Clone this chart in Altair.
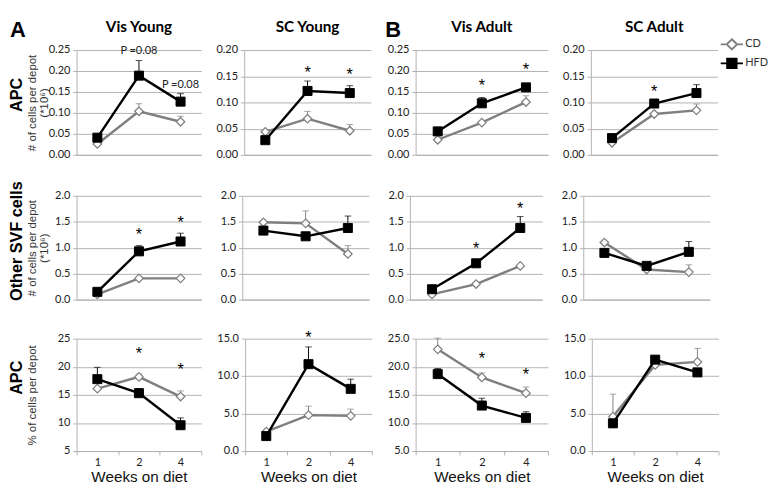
import altair as alt
import pandas as pd

weeks = ["1", "2", "4"]
series_names = ["CD", "HFD"]

# ---------- Row 1: APC, number of cells per depot (*10^6) ----------
apc_n_vis_young_cd = [0.026, 0.104, 0.079]
apc_n_vis_young_cd_sem = [0.0, 0.018, 0.013]
apc_n_vis_young_hfd = [0.041, 0.189, 0.127]
apc_n_vis_young_hfd_sem = [0.0, 0.036, 0.019]

apc_n_sc_young_cd = [0.044, 0.069, 0.046]
apc_n_sc_young_cd_sem = [0.0, 0.014, 0.012]
apc_n_sc_young_hfd = [0.028, 0.122, 0.118]
apc_n_sc_young_hfd_sem = [0.0, 0.019, 0.014]

apc_n_vis_adult_cd = [0.036, 0.077, 0.126]
apc_n_vis_adult_cd_sem = [0.0, 0.0, 0.015]
apc_n_vis_adult_hfd = [0.056, 0.123, 0.161]
apc_n_vis_adult_hfd_sem = [0.0, 0.014, 0.0]

apc_n_sc_adult_cd = [0.023, 0.078, 0.085]
apc_n_sc_adult_cd_sem = [0.0, 0.0, 0.012]
apc_n_sc_adult_hfd = [0.032, 0.098, 0.118]
apc_n_sc_adult_hfd_sem = [0.0, 0.0, 0.016]

# ---------- Row 2: Other SVF cells, number of cells per depot (*10^6) ----------
svf_vis_young_cd = [0.10, 0.41, 0.41]
svf_vis_young_cd_sem = [0.0, 0.0, 0.0]
svf_vis_young_hfd = [0.15, 0.93, 1.12]
svf_vis_young_hfd_sem = [0.0, 0.11, 0.16]

svf_sc_young_cd = [1.49, 1.47, 0.88]
svf_sc_young_cd_sem = [0.0, 0.24, 0.16]
svf_sc_young_hfd = [1.33, 1.22, 1.38]
svf_sc_young_hfd_sem = [0.0, 0.0, 0.23]

svf_vis_adult_cd = [0.10, 0.30, 0.65]
svf_vis_adult_cd_sem = [0.0, 0.0, 0.0]
svf_vis_adult_hfd = [0.20, 0.70, 1.38]
svf_vis_adult_hfd_sem = [0.0, 0.0, 0.22]

svf_sc_adult_cd = [1.10, 0.58, 0.53]
svf_sc_adult_cd_sem = [0.0, 0.0, 0.14]
svf_sc_adult_hfd = [0.90, 0.65, 0.92]
svf_sc_adult_hfd_sem = [0.0, 0.0, 0.20]

# ---------- Row 3: APC, % of cells per depot ----------
apc_pct_vis_young_cd = [16.1, 18.2, 14.7]
apc_pct_vis_young_cd_sem = [0.0, 0.5, 1.0]
apc_pct_vis_young_hfd = [17.8, 15.3, 9.6]
apc_pct_vis_young_hfd_sem = [2.1, 0.8, 1.3]

apc_pct_sc_young_cd = [2.6, 4.8, 4.7]
apc_pct_sc_young_cd_sem = [0.0, 1.2, 0.9]
apc_pct_sc_young_hfd = [2.0, 11.6, 8.3]
apc_pct_sc_young_hfd_sem = [0.0, 2.3, 1.3]

apc_pct_vis_adult_cd = [23.1, 18.1, 15.3]
apc_pct_vis_adult_cd_sem = [2.0, 0.8, 1.1]
apc_pct_vis_adult_hfd = [18.7, 13.1, 10.9]
apc_pct_vis_adult_hfd_sem = [1.0, 1.3, 1.1]

apc_pct_sc_adult_cd = [4.6, 11.5, 11.9]
apc_pct_sc_adult_cd_sem = [3.0, 0.0, 1.8]
apc_pct_sc_adult_hfd = [3.7, 12.2, 10.5]
apc_pct_sc_adult_hfd_sem = [0.0, 0.0, 0.0]

# ---------- Significance annotations (week, value, text) ----------
notes_apc_n_vis_young = [("2", 0.248, "P =0.08"), ("4", 0.167, "P =0.08")]
notes_apc_n_sc_young = [("2", 0.164, "*"), ("4", 0.161, "*")]
notes_apc_n_vis_adult = [("2", 0.176, "*"), ("4", 0.214, "*")]
notes_apc_n_sc_adult = [("2", 0.128, "*")]
notes_svf_vis_young = [("2", 1.33, "*"), ("4", 1.57, "*")]
notes_svf_vis_adult = [("2", 1.07, "*"), ("4", 1.83, "*")]
notes_apc_pct_vis_young = [("2", 23.1, "*"), ("4", 20.2, "*")]
notes_apc_pct_sc_young = [("2", 15.7, "*")]
notes_apc_pct_vis_adult = [("2", 22.1, "*"), ("4", 19.3, "*")]

column_titles = ["Vis Young", "SC Young", "Vis Adult", "SC Adult"]
row_labels = ["APC", "Other SVF cells", "APC"]
row_axis_titles = [["# of cells per depot", "(*10\u2076)"],
                   ["# of cells per depot", "(*10\u2076)"],
                   ["% of cells per depot", " "]]
x_title = "Weeks on diet"

GRAY = "#7f7f7f"
GRID = "#b0b0b0"
CD_PATH = "M-1.3,0L-0.6,0M0.6,0L1.3,0M0,-0.6L0.6,0L0,0.6L-0.6,0Z"
HFD_PATH = "M-1.3,0L-0.55,0M0.55,0L1.3,0M-0.55,-0.55L0.55,-0.55L0.55,0.55L-0.55,0.55Z"

COL_W = [131, 133, 139, 133]
ROW_H = [110, 109, 118]
LETTER_X = [-70, 0, -32, 0]
LETTER_Y = -32
ROWLABEL_X = -62
ROWLABEL_DY = [-8, -7, -18]


def panel(cd, cd_sem, hfd, hfd_sem, ydomain, yticks, yfmt, notes, col, row):
    width, height = COL_W[col], ROW_H[row]
    df = pd.DataFrame({
        "week": weeks + weeks,
        "series": ["CD"] * 3 + ["HFD"] * 3,
        "value": cd + hfd,
        "sem": cd_sem + hfd_sem,
    })
    df["upper"] = df["value"] + df["sem"]
    base = alt.Chart(df)
    if row == 2:
        xaxis = alt.Axis(title=x_title, labelAngle=0, tickBand="extent", ticks=True,
                         tickSize=4, labelPadding=2, titlePadding=1, domain=True, grid=False,
                         labelFontSize=11.5, titleFontSize=16)
    else:
        xaxis = alt.Axis(title=None, labels=False, ticks=False, domain=True, grid=False,
                         minExtent=0, maxExtent=0)
    xscale = alt.Scale(type="band", domain=weeks, paddingInner=0, paddingOuter=0)
    x = alt.X("week:N", sort=weeks, scale=xscale, axis=xaxis)
    yscale = alt.Scale(domain=ydomain, nice=False, zero=False)
    if col == 0:
        yaxis = alt.Axis(values=yticks, format=yfmt, title=row_axis_titles[row], grid=True,
                         minExtent=28, maxExtent=28, titleFontSize=12, titleLineHeight=12,
                         titlePadding=0, titleColor="#333")
    else:
        yaxis = alt.Axis(values=yticks, format=yfmt, title=None, grid=True, minExtent=28, maxExtent=28)
    y = alt.Y("value:Q", scale=yscale, axis=yaxis)
    yu = alt.Y("upper:Q", scale=yscale, axis=yaxis)

    layers = []
    for s, color in [("CD", GRAY), ("HFD", "black")]:
        err = base.transform_filter(alt.datum.series == s).transform_filter(alt.datum.sem > 0)
        layers.append(err.mark_rule(color=color, strokeWidth=1).encode(x=x, y=y, y2="upper:Q"))
        layers.append(err.mark_tick(color=color, thickness=1, size=7, orient="horizontal").encode(x=x, y=yu))
    cdd = base.transform_filter(alt.datum.series == "CD")
    hfdd = base.transform_filter(alt.datum.series == "HFD")
    layers.append(cdd.mark_line(color=GRAY, strokeWidth=2.5).encode(x=x, y=y))
    layers.append(cdd.mark_point(shape="diamond", filled=True, fill="white", stroke=GRAY,
                                 strokeWidth=1.3, size=80, opacity=1).encode(x=x, y=y))
    layers.append(hfdd.mark_line(color="black", strokeWidth=2.5).encode(x=x, y=y))
    layers.append(hfdd.mark_square(color="black", size=90, opacity=1, stroke="black",
                                   strokeWidth=1).encode(x=x, y=y))

    if notes:
        ndf = pd.DataFrame(notes, columns=["week", "value", "label"])
        nb = alt.Chart(ndf)
        layers.append(nb.transform_filter(alt.datum.label == "*").mark_text(
            font="Liberation Sans", fontSize=17, baseline="alphabetic", dy=10, color="black"
        ).encode(x=x, y=y, text="label:N"))
        layers.append(nb.transform_filter(alt.datum.label != "*").mark_text(
            font="Lato", fontSize=11.5, baseline="middle", color="#222"
        ).encode(x=x, y=y, text="label:N"))

    # bold row label at the left of the first column
    if col == 0:
        rdf = pd.DataFrame({"t": [row_labels[row]]})
        layers.append(alt.Chart(rdf).mark_text(
            font="Liberation Sans", fontSize=17, fontWeight="bold", angle=270,
            align="center", baseline="middle", color="black"
        ).encode(x=alt.value(ROWLABEL_X), y=alt.value(height / 2 + ROWLABEL_DY[row]), text="t:N"))

    # panel letters (A, B); an invisible one keeps the column titles level
    if row == 0:
        visible = col in (0, 2)
        ldf = pd.DataFrame({"t": ["A" if col < 2 else "B"]})
        layers.append(alt.Chart(ldf).mark_text(
            font="Liberation Sans", fontSize=23, fontWeight="bold", align="left",
            baseline="top", color="black", opacity=1 if visible else 0
        ).encode(x=alt.value(LETTER_X[col]), y=alt.value(LETTER_Y), text="t:N"))

    if row == 0 and col == 3:
        leg = alt.Legend(title=None, orient="none", legendX=138, legendY=-16, symbolSize=324,
                         symbolStrokeWidth=2, symbolOpacity=1, symbolFillColor="white",
                         symbolStrokeColor="black", labelFont="Lato", labelFontSize=11.5,
                         labelColor="#333", labelOffset=4, rowPadding=0, padding=0)
        layers.append(base.mark_point(opacity=0, filled=False, strokeWidth=2).encode(
            x=x, y=y,
            color=alt.Color("series:N", scale=alt.Scale(domain=series_names, range=[GRAY, "black"]), legend=leg),
            fill=alt.Fill("series:N", scale=alt.Scale(domain=series_names, range=["white", "black"]), legend=leg),
            shape=alt.Shape("series:N", scale=alt.Scale(domain=series_names, range=[CD_PATH, HFD_PATH]), legend=leg),
        ))

    ch = alt.layer(*layers).properties(width=width, height=height)
    if row == 0:
        ch = ch.properties(title=alt.TitleParams(column_titles[col], font="Lato", fontSize=16,
                                                 fontWeight="bold", anchor="middle", frame="group",
                                                 offset=-16, color="black"))
    return ch


t1 = [0, 0.05, 0.10, 0.15, 0.20, 0.25]
t1b = [0, 0.05, 0.10, 0.15, 0.20]
t2 = [0, 0.5, 1.0, 1.5, 2.0]
t3a = [5, 10, 15, 20, 25]
t3b = [0, 5, 10, 15]

row1 = [
    panel(apc_n_vis_young_cd, apc_n_vis_young_cd_sem, apc_n_vis_young_hfd, apc_n_vis_young_hfd_sem,
          [0, 0.25], t1, ".2f", notes_apc_n_vis_young, 0, 0),
    panel(apc_n_sc_young_cd, apc_n_sc_young_cd_sem, apc_n_sc_young_hfd, apc_n_sc_young_hfd_sem,
          [0, 0.20], t1b, ".2f", notes_apc_n_sc_young, 1, 0),
    panel(apc_n_vis_adult_cd, apc_n_vis_adult_cd_sem, apc_n_vis_adult_hfd, apc_n_vis_adult_hfd_sem,
          [0, 0.25], t1, ".2f", notes_apc_n_vis_adult, 2, 0),
    panel(apc_n_sc_adult_cd, apc_n_sc_adult_cd_sem, apc_n_sc_adult_hfd, apc_n_sc_adult_hfd_sem,
          [0, 0.20], t1b, ".2f", notes_apc_n_sc_adult, 3, 0),
]
row2 = [
    panel(svf_vis_young_cd, svf_vis_young_cd_sem, svf_vis_young_hfd, svf_vis_young_hfd_sem,
          [0, 2.0], t2, ".1f", notes_svf_vis_young, 0, 1),
    panel(svf_sc_young_cd, svf_sc_young_cd_sem, svf_sc_young_hfd, svf_sc_young_hfd_sem,
          [0, 2.0], t2, ".1f", [], 1, 1),
    panel(svf_vis_adult_cd, svf_vis_adult_cd_sem, svf_vis_adult_hfd, svf_vis_adult_hfd_sem,
          [0, 2.0], t2, ".1f", notes_svf_vis_adult, 2, 1),
    panel(svf_sc_adult_cd, svf_sc_adult_cd_sem, svf_sc_adult_hfd, svf_sc_adult_hfd_sem,
          [0, 2.0], t2, ".1f", [], 3, 1),
]
row3 = [
    panel(apc_pct_vis_young_cd, apc_pct_vis_young_cd_sem, apc_pct_vis_young_hfd, apc_pct_vis_young_hfd_sem,
          [5, 25], t3a, "d", notes_apc_pct_vis_young, 0, 2),
    panel(apc_pct_sc_young_cd, apc_pct_sc_young_cd_sem, apc_pct_sc_young_hfd, apc_pct_sc_young_hfd_sem,
          [0, 15], t3b, ".1f", notes_apc_pct_sc_young, 1, 2),
    panel(apc_pct_vis_adult_cd, apc_pct_vis_adult_cd_sem, apc_pct_vis_adult_hfd, apc_pct_vis_adult_hfd_sem,
          [5, 25], t3a, ".1f", notes_apc_pct_vis_adult, 2, 2),
    panel(apc_pct_sc_adult_cd, apc_pct_sc_adult_cd_sem, apc_pct_sc_adult_hfd, apc_pct_sc_adult_hfd_sem,
          [0, 15], t3b, ".1f", [], 3, 2),
]

IND = dict(color="independent", fill="independent", shape="independent")


def make_row(panels):
    return alt.hconcat(*panels, spacing=15).resolve_scale(**IND).resolve_legend(**IND)


r1 = make_row(row1)
r2 = make_row(row2)
r3 = make_row(row3)

lower = alt.vconcat(r2, r3, spacing=25).resolve_scale(**IND).resolve_legend(**IND)
chart = alt.vconcat(r1, lower, spacing=21).resolve_scale(**IND).resolve_legend(**IND)

chart = chart.properties(padding=0).configure_view(stroke=None).configure_axis(
    labelFont="Lato", labelFontSize=11.5, labelColor="#222", domainColor=GRID, gridColor=GRID,
    tickColor=GRID, tickSize=4, labelPadding=3, titleFont="Liberation Sans", titleColor="#111",
    titleFontWeight="normal", titleFontSize=17
)

chart.save("out.html", embed_options={"renderer": "svg", "actions": False})
